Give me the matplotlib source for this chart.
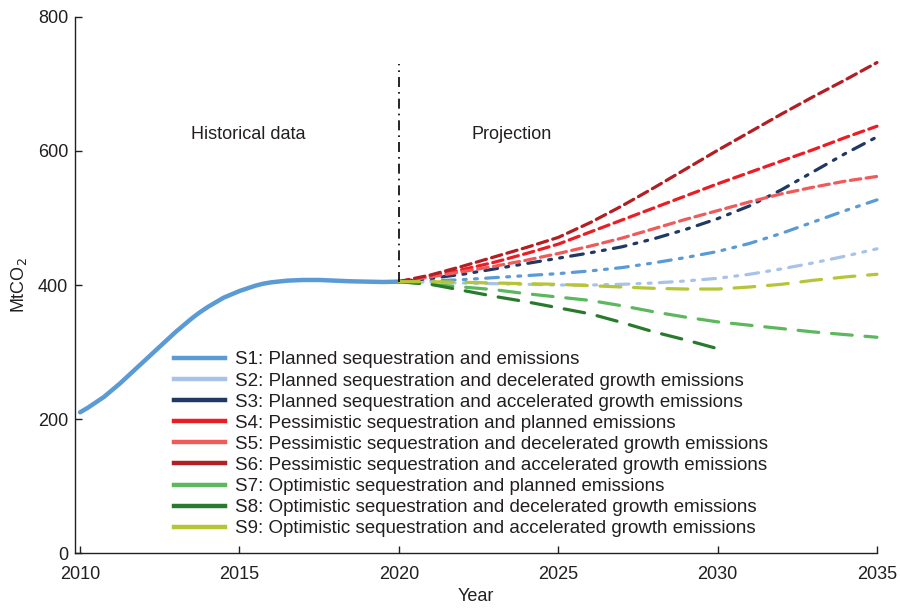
import matplotlib
matplotlib.use("Agg")
import matplotlib.pyplot as plt
from matplotlib.lines import Line2D

plt.rcParams["font.family"] = ["Liberation Sans", "DejaVu Sans"]

# historical data (S1), read every quarter year up to 2016, then half years
HIST_YEARS = [2010, 2010.25, 2010.5, 2010.75, 2011, 2011.25, 2011.5, 2011.75,
              2012, 2012.25, 2012.5, 2012.75, 2013, 2013.25, 2013.5, 2013.75,
              2014, 2014.25, 2014.5, 2014.75, 2015, 2015.25, 2015.5, 2015.75,
              2016, 2016.5, 2017, 2017.5, 2018, 2018.5, 2019, 2019.5, 2020]
HIST_VALS = [210, 217, 225, 233, 243, 253, 264, 275,
             286, 297, 308, 319, 330, 340, 350, 359,
             367, 374, 381, 386, 391, 395, 399, 402,
             404, 406.5, 407.5, 407.5, 406.5, 405.5, 405, 404.5, 405]

PROJ_YEARS = list(range(2020, 2036))
S1 = [405, 406, 408, 411, 414, 417, 421, 426, 433, 441, 450, 462, 477, 494, 511, 527]
S2 = [405, 404, 403, 402, 401, 400, 400, 401, 403, 406, 410, 416, 424, 433, 443, 454]
S3 = [405, 410, 416, 424, 432, 440, 448, 457, 469, 483, 499, 518, 542, 569, 596, 621]
S4 = [405, 413, 423, 434, 447, 461, 479, 497, 515, 533, 551, 568, 585, 602, 620, 637]
S5 = [405, 412, 420, 428, 437, 447, 458, 470, 484, 498, 511, 524, 536, 546, 555, 562]
S6 = [405, 415, 428, 442, 456, 471, 493, 518, 545, 573, 601, 628, 655, 681, 706, 732]
S7 = [405, 401, 397, 393, 387, 382, 377, 369, 360, 352, 345, 340, 335, 330, 326, 322]
S8_YEARS = list(range(2020, 2031))
S8 = [405, 401, 392, 383, 375, 366, 357, 344, 330, 318, 305]
S9 = [405, 405, 404, 403, 402, 401, 399, 397, 395, 394, 394, 397, 401, 407, 412, 416]

LABELS = [
    "S1: Planned sequestration and emissions",
    "S2: Planned sequestration and decelerated growth emissions",
    "S3: Planned sequestration and accelerated growth emissions",
    "S4: Pessimistic sequestration and planned emissions",
    "S5: Pessimistic sequestration and decelerated growth emissions",
    "S6: Pessimistic sequestration and accelerated growth emissions",
    "S7: Optimistic sequestration and planned emissions",
    "S8: Optimistic sequestration and decelerated growth emissions",
    "S9: Optimistic sequestration and accelerated growth emissions",
]
COLORS = ["#5b9bd5", "#a9c3e8", "#1f3864", "#ec1c24", "#f05a5a",
          "#b21e23", "#5cb85c", "#2a7a2e", "#b5c535"]

VLINE_X = 2020
VLINE_RANGE = (405, 730)

DASHDOTDOT = (0, (4, 2.6, 0.9, 2.6, 0.9, 2.6))
SHORTDASH = (0, (3.3, 1.7))
LONGDASH = (0, (6.5, 4))
STYLES = [DASHDOTDOT] * 3 + [SHORTDASH] * 3 + [LONGDASH] * 3

TXT = "#231f20"
LW = 2.3

fig = plt.figure(figsize=(9, 6.11), dpi=100)
ax = fig.add_axes([0.0833, 0.0949, 0.8911, 0.8773])

ax.plot(HIST_YEARS, HIST_VALS, color=COLORS[0], lw=3.2, solid_capstyle="round")

series = [S1, S2, S3, S4, S5, S6, S7, S8, S9]
for i, vals in enumerate(series):
    xs = S8_YEARS if i == 7 else PROJ_YEARS
    ax.plot(xs, vals, color=COLORS[i], lw=LW, linestyle=STYLES[i],
            dash_capstyle="round", clip_on=False)

ax.plot([VLINE_X, VLINE_X], VLINE_RANGE, color="black", lw=1.2,
        linestyle=(0, (6, 3, 1, 3)))

ax.text(2015.27, 625, "Historical data", fontsize=13, color=TXT, ha="center", va="center")
ax.text(2023.55, 625, "Projection", fontsize=13, color=TXT, ha="center", va="center")

ax.set_xlim(2009.84, 2035)
ax.set_ylim(0, 800)
ax.set_xticks([2010, 2015, 2020, 2025, 2030, 2035])
ax.set_yticks([0, 200, 400, 600, 800])
for s in ["top", "right"]:
    ax.spines[s].set_visible(False)
for s in ["left", "bottom"]:
    ax.spines[s].set_color(TXT)
    ax.spines[s].set_linewidth(1.0)
ax.tick_params(direction="in", length=5, width=1.0, colors=TXT, labelsize=13)
ax.tick_params(axis="x", pad=9)
ax.tick_params(axis="y", pad=5)
ax.set_xlabel("Year", fontsize=13, color=TXT, labelpad=4)
ax.set_ylabel("MtCO$_2$", fontsize=13, color=TXT, labelpad=6)

handles = [Line2D([], [], color=c, lw=3.2) for c in COLORS]
ax.legend(handles, LABELS, loc="upper left", bbox_to_anchor=(0.1234, 0.3763),
          frameon=False, fontsize=13.5, handlelength=2.72, handletextpad=0.53,
          labelspacing=0.213, borderpad=0, borderaxespad=0, labelcolor=TXT)

fig.savefig("out.png", dpi=100)
